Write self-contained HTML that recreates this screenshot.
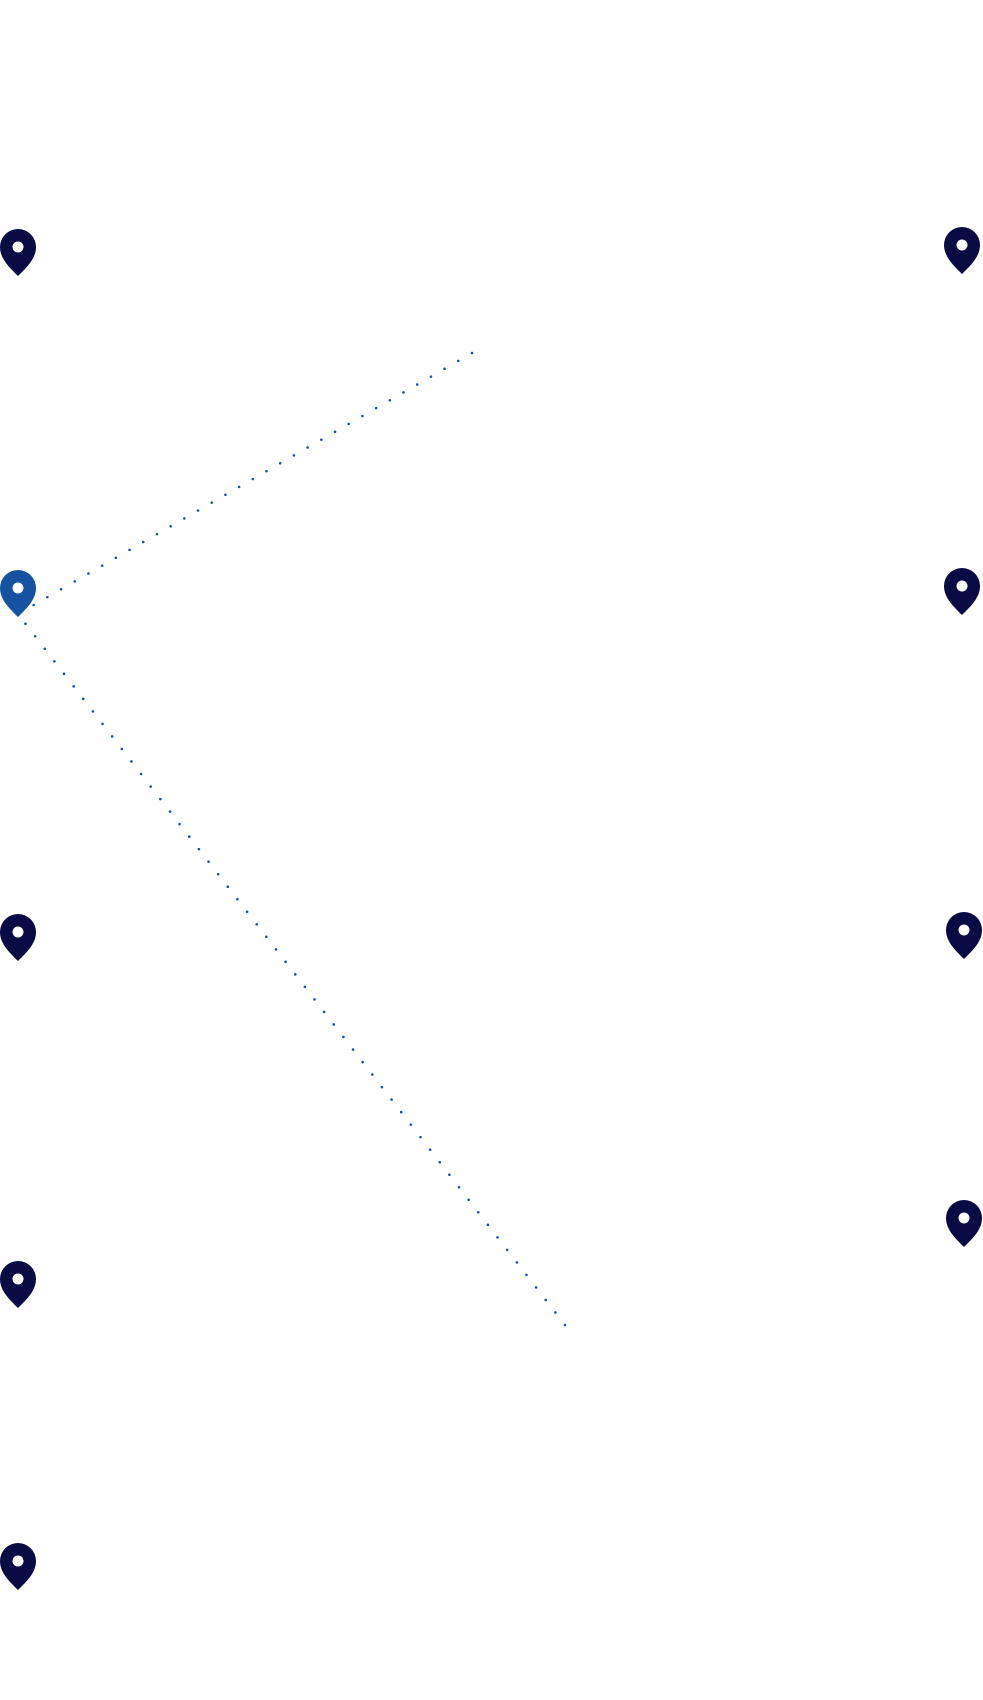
<!DOCTYPE html>
<html><head><meta charset="utf-8"><style>
html,body{margin:0;padding:0;background:#fff;width:983px;height:1700px;overflow:hidden}
</style></head><body>
<svg width="983" height="1700" viewBox="0 0 983 1700" xmlns="http://www.w3.org/2000/svg">
<defs>
<g id="pin"><path d="M18 47 C10 39 0 30 0 18 A18 18 0 0 1 36 18 C36 30 26 39 18 47Z"/><circle cx="18" cy="18" r="5.5" fill="#fff"/></g>
</defs>
<g stroke="#1553a0" stroke-width="2.6" stroke-linecap="round" stroke-dasharray="0 15.8" fill="none">
<line x1="472" y1="353" x2="18" y2="614"/>
<line x1="565" y1="1325" x2="18" y2="614"/>
</g>
<g fill="#0a0a45">
<use href="#pin" x="0" y="229"/>
<use href="#pin" x="0" y="914"/>
<use href="#pin" x="0" y="1261"/>
<use href="#pin" x="0" y="1543"/>
<use href="#pin" x="944" y="227"/>
<use href="#pin" x="944" y="568"/>
<use href="#pin" x="946" y="912"/>
<use href="#pin" x="946" y="1200"/>
</g>
<g fill="#1553a0"><use href="#pin" x="0" y="570"/></g>
</svg>
</body></html>
